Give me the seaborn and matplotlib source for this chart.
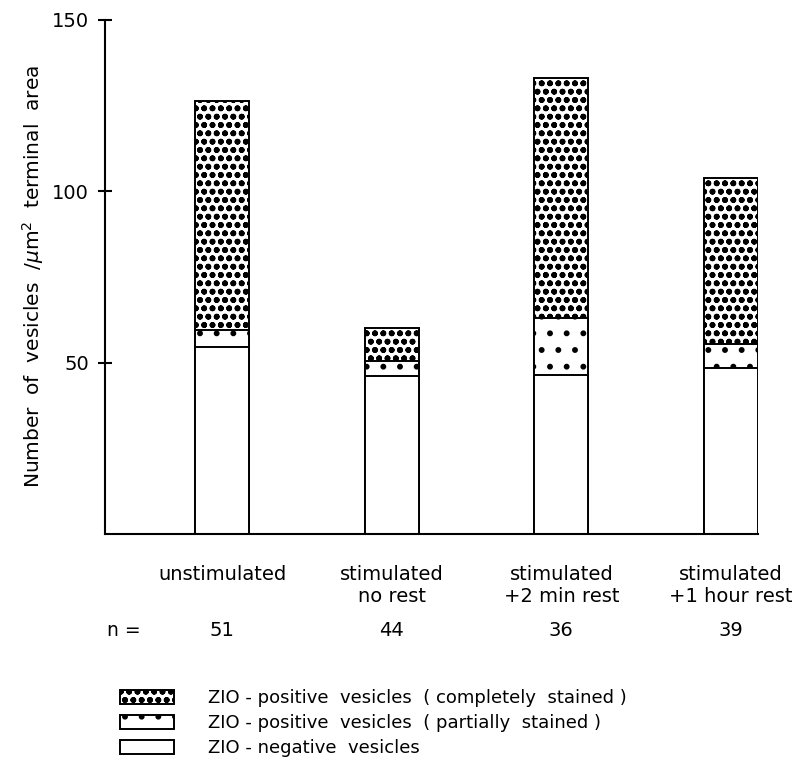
import numpy as np
import pandas as pd
import seaborn as sns
import matplotlib.pyplot as plt
from matplotlib.patches import Patch

# values
groups = ["unstimulated", "stimulated\nno rest", "stimulated\n+2 min rest", "stimulated\n+1 hour rest"]
negative = [54.5, 46.0, 46.5, 48.5]     # ZIO-negative
partial = [5.0, 4.5, 16.5, 7.0]         # partially stained
complete = [67.0, 9.5, 70.0, 48.5]      # completely stained
n_values = [51, 44, 36, 39]
legend_labels = ["ZIO - positive  vesicles  ( completely  stained )",
                 "ZIO - positive  vesicles  ( partially  stained )",
                 "ZIO - negative  vesicles"]

sns.set_style("ticks")
plt.rcParams["font.family"] = ["DejaVu Sans"]
plt.rcParams["mathtext.fontset"] = "dejavusans"
plt.rcParams["hatch.linewidth"] = 1.8
for k in ["text.color", "axes.labelcolor", "xtick.color", "ytick.color", "axes.edgecolor"]:
    plt.rcParams[k] = "black"

df = pd.DataFrame({"group": groups, "neg": negative, "part": partial, "comp": complete})
df["lvl2"] = df["neg"] + df["part"]
df["lvl3"] = df["lvl2"] + df["comp"]

fig = plt.figure(figsize=(7.98, 7.78), dpi=100)
ax = fig.add_axes([0.1316, 0.3136, 0.8184, 0.6607])

dense = "oo.."   # rings + filled centres -> solid dots on a tight grid
sparse = "."
bw = 0.32
layers = [("lvl3", dense), ("lvl2", sparse), ("neg", "")]
for col, h in layers:
    sns.barplot(data=df, x="group", y=col, order=groups, color="white", saturation=1,
                edgecolor="black", linewidth=1.4, hatch=h, width=bw, errorbar=None, ax=ax)

ax.set_xlim(-0.69, 3.16)
ax.set_ylim(0, 150)
ax.set_yticks([50, 100, 150])
ax.tick_params(axis="y", direction="inout", length=10, width=1.5, pad=6.5, labelsize=14)
ax.tick_params(axis="x", length=0, pad=22, labelsize=14)
for t in ax.get_xticklabels():
    t.set_linespacing(1.25)
ax.set_xlabel("")
ax.set_ylabel(r"Number  of  vesicles  /$\mu$m$^2$  terminal  area", fontsize=14.5)
ax.yaxis.set_label_coords(-0.09, 0.5)
sns.despine(ax=ax)
for s in ["left", "bottom"]:
    ax.spines[s].set_linewidth(1.5)

# n row
ax.text(-0.68, -0.187, "n =", transform=ax.get_xaxis_transform(), ha="left", va="center", fontsize=13.5)
for i, n in enumerate(n_values):
    ax.text(i, -0.187, str(n), transform=ax.get_xaxis_transform(), ha="center", va="center", fontsize=14)

handles = [Patch(facecolor="white", edgecolor="black", hatch=dense, linewidth=1.4),
           Patch(facecolor="white", edgecolor="black", hatch=sparse, linewidth=1.4),
           Patch(facecolor="white", edgecolor="black", linewidth=1.4)]
fig.legend(handles, legend_labels, loc="upper left", bbox_to_anchor=(120 / 798, 1 - 689 / 778),
           frameon=False, fontsize=13, handlelength=3.0, handleheight=0.85,
           handletextpad=1.9, labelspacing=0.4, borderpad=0, borderaxespad=0)

fig.savefig("out.png", dpi=100)
